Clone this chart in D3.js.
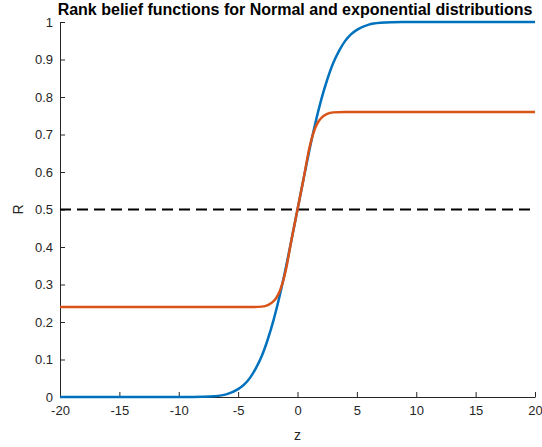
<!DOCTYPE html>
<html>
<head>
<meta charset="utf-8">
<script src="https://cdn.jsdelivr.net/npm/d3@7"></script>
<style>
  body { margin: 0; background: #fff; }
  svg { font-family: "Liberation Sans", Arial, sans-serif; }
  .axis path, .axis line { stroke: #262626; }
  .axis text { fill: #262626; font-size: 13px; }
</style>
</head>
<body>
<div id="chart"></div>
<script>
// values
var zNormal   = [-20, -12, -10, -9, -8, -7, -6, -5, -4.5, -4, -3.5, -3, -2.5, -2, -1.5, -1, -0.5, 0,
                 0.5, 1, 1.5, 2, 2.5, 3, 3.5, 4, 4.5, 5, 6, 7, 8, 9, 10, 12, 20];
var rNormal   = [0, 0, 0.00003, 0.0002, 0.0006, 0.002, 0.007, 0.021, 0.033, 0.051, 0.077, 0.11, 0.154, 0.207, 0.27, 0.342, 0.42, 0.5,
                 0.58, 0.658, 0.73, 0.793, 0.846, 0.89, 0.923, 0.949, 0.967, 0.979, 0.993, 0.998, 0.9994, 0.9998, 0.99997, 1, 1];
var zExp      = [-20, -6, -4, -3, -2.5, -2, -1.75, -1.5, -1.25, -1, -0.5, 0, 0.5, 1, 1.25, 1.5, 1.75, 2, 2.5, 3, 4, 6, 20];
var rExp      = [0.24, 0.24, 0.24, 0.241, 0.245, 0.256, 0.266, 0.282, 0.305, 0.336, 0.42, 0.5, 0.58, 0.664, 0.695, 0.718, 0.734, 0.744, 0.755, 0.759, 0.76, 0.76, 0.76];
var refLevel  = 0.5;
var xTicks = [-20, -15, -10, -5, 0, 5, 10, 15, 20];
var yTicks = [0, 0.1, 0.2, 0.3, 0.4, 0.5, 0.6, 0.7, 0.8, 0.9, 1];

var width = 542, height = 447;
var margin = {left: 60, right: 7, top: 22, bottom: 50};

var svg = d3.select('#chart').append('svg')
  .attr('width', width)
  .attr('height', height);

var x = d3.scaleLinear().domain([-20, 20]).range([margin.left, width - margin.right]);
var y = d3.scaleLinear().domain([0, 1]).range([height - margin.bottom, margin.top]);

/* axes, ticks pointing inward like matlab */
svg.append('g').attr('class', 'axis')
  .attr('transform', 'translate(0,' + y(0) + ')')
  .call(d3.axisBottom(x).tickValues(xTicks).tickSize(-5).tickSizeOuter(0).tickPadding(9)
        .tickFormat(d3.format('d')))
  .call(function(g){ g.select('.domain').attr('stroke-width', 1); });

svg.append('g').attr('class', 'axis')
  .attr('transform', 'translate(' + x(-20) + ',0)')
  .call(d3.axisLeft(y).tickValues(yTicks).tickSize(-5).tickSizeOuter(0).tickPadding(7)
        .tickFormat(function(d){ return d3.format('~g')(d); }));

svg.selectAll('.axis text').text(function(){ return this.textContent.replace('−', '-'); });

/* dashed reference line */
svg.append('line')
  .attr('x1', x(-20)).attr('x2', x(20))
  .attr('y1', y(refLevel)).attr('y2', y(refLevel))
  .attr('stroke', '#000').attr('stroke-width', 2)
  .attr('stroke-dasharray', '11,6');

var line = d3.line()
  .x(function(d){ return x(d[0]); })
  .y(function(d){ return y(d[1]); })
  .curve(d3.curveMonotoneX);

svg.append('path')
  .datum(d3.zip(zNormal, rNormal))
  .attr('d', line)
  .attr('fill', 'none').attr('stroke', '#0072BD').attr('stroke-width', 2.5);

svg.append('path')
  .datum(d3.zip(zExp, rExp))
  .attr('d', line)
  .attr('fill', 'none').attr('stroke', '#D95319').attr('stroke-width', 2.5);

/* labels */
svg.append('text')
  .attr('x', 295).attr('y', 15)
  .attr('text-anchor', 'middle')
  .style('font-weight', 'bold').style('font-size', '16px').attr('fill', '#000')
  .text('Rank belief functions for Normal and exponential distributions');

svg.append('text')
  .attr('x', (x(-20) + x(20)) / 2).attr('y', 440)
  .attr('text-anchor', 'middle')
  .style('font-size', '14px').attr('fill', '#262626')
  .text('z');

svg.append('text')
  .attr('transform', 'translate(23,' + y(0.5) + ') rotate(-90)')
  .attr('text-anchor', 'middle')
  .style('font-size', '14px').attr('fill', '#262626')
  .text('R');
</script>
</body>
</html>
